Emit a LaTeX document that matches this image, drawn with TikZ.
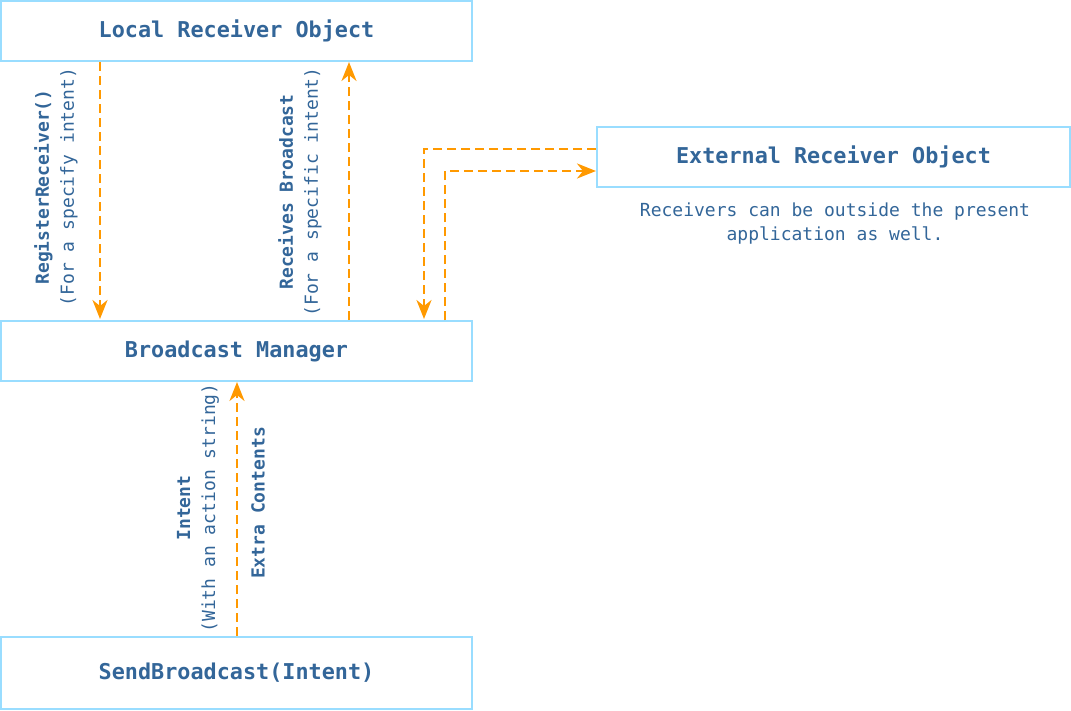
\documentclass[tikz,border=0pt]{standalone}
\usepackage{fontspec}
\setmonofont{DejaVu Sans Mono}
\usetikzlibrary{arrows.meta}
\definecolor{boxline}{HTML}{99DDFF}
\definecolor{txt}{HTML}{336699}
\definecolor{arr}{HTML}{FF9900}
\tikzset{
  box/.style={draw=boxline, line width=2.2pt, fill=white, minimum height=60pt, inner sep=0pt,
    font=\ttfamily\bfseries\fontsize{21.8pt}{26pt}\selectfont, text=txt},
  flow/.style={draw=arr, line width=2.4pt, dash pattern=on 9pt off 5pt,
    -{Stealth[length=19pt,width=15pt,inset=6pt]}},
  lbl/.style={font=\ttfamily\fontsize{18pt}{25pt}\selectfont, text=txt, align=center, rotate=90, inner sep=0pt},
  desc/.style={font=\ttfamily\fontsize{18pt}{24pt}\selectfont, text=txt, align=center, inner sep=0pt}
}
\begin{document}
\begin{tikzpicture}[x=1pt,y=-1pt]
\useasboundingbox (0,0) rectangle (1071,710);
\node[box, minimum width=471pt] (local) at (236.5,31) {Local Receiver Object};
\node[box, minimum width=471pt] (bm) at (236.5,351) {Broadcast Manager};
\node[box, minimum width=471pt, minimum height=72pt] (send) at (236.5,673) {SendBroadcast(Intent)};
\node[box, minimum width=473pt] (ext) at (833.5,157) {External Receiver Object};
\node[desc] (extdesc) at (835,224) {Receivers can be outside the present\\application as well.};

\coordinate (a1s) at (100,62);
\coordinate (a1e) at (100,319);
\draw[flow] (a1s) -- (a1e);
\coordinate (a2s) at (349,320);
\coordinate (a2e) at (349,62);
\draw[flow] (a2s) -- (a2e);
\coordinate (a3s) at (596,149);
\coordinate (a3m) at (424,149);
\coordinate (a3e) at (424,319);
\draw[flow] (a3s) -- (a3m) -- (a3e);
\coordinate (a4s) at (445,320);
\coordinate (a4m) at (445,171);
\coordinate (a4e) at (596,171);
\draw[flow] (a4s) -- (a4m) -- (a4e);
\coordinate (a5s) at (237,636);
\coordinate (a5e) at (237,382);
\draw[flow] (a5s) -- (a5e);

\node[lbl] (l1) at (56,187) {\textbf{RegisterReceiver()}\\(For a specify intent)};
\node[lbl] (l2) at (300,192) {\textbf{Receives Broadcast}\\(For a specific intent)};
\node[lbl] (l3) at (198,508) {\textbf{Intent}\\(With an action string)};
\node[lbl] (l4) at (258,503) {\textbf{Extra Contents}};
\end{tikzpicture}
\end{document}
